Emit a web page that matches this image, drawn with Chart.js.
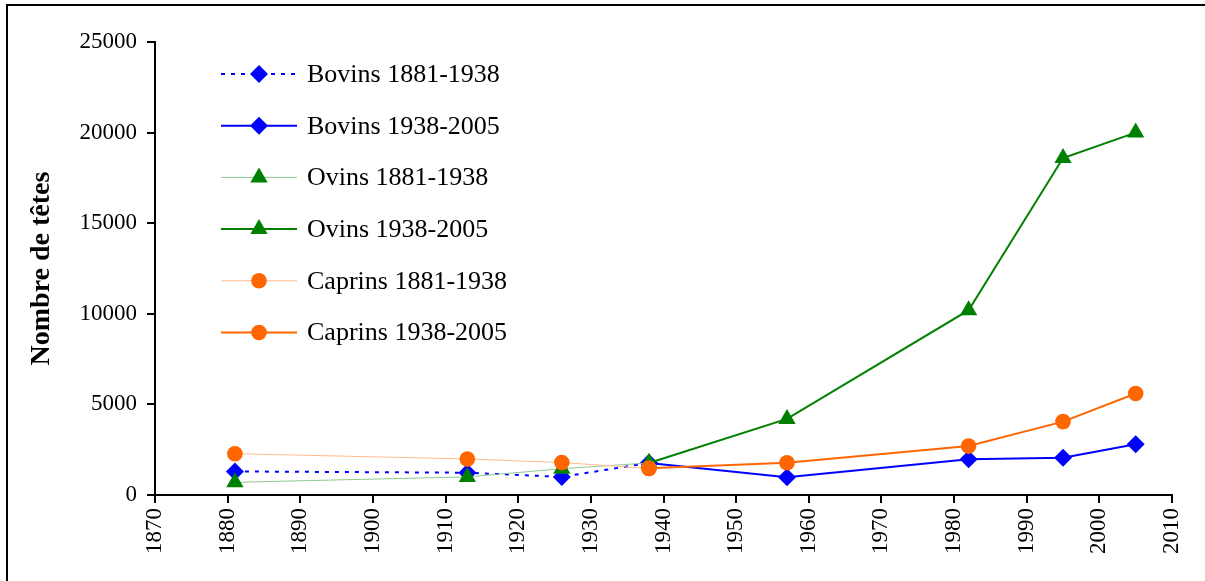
<!DOCTYPE html>
<html>
<head>
<meta charset="utf-8">
<script src="https://cdn.jsdelivr.net/npm/chart.js"></script>
<style>
  html, body { margin: 0; padding: 0; background: #fff; overflow: hidden; }
  #wrap { position: relative; width: 1205px; height: 581px; }
  #frame {
    position: absolute; left: 6px; top: 4px; width: 1400px; height: 800px;
    border-left: 2px solid #000; border-top: 2px solid #000; pointer-events: none;
  }
</style>
</head>
<body>
<div id="wrap">
  <canvas id="herdChart" width="1205" height="581"></canvas>
  <div id="frame"></div>
</div>
<script>
// Census years of the two periods
var yearsEarly = [1881, 1913, 1926, 1938];
var yearsLate = [1938, 1957, 1982, 1995, 2005];

// Head counts per species
var bovinsEarly = [1300, 1230, 1000, 1770];
var bovinsLate = [1770, 980, 1970, 2060, 2800];
var ovinsEarly = [700, 1000, 1450, 1770];
var ovinsLate = [1770, 4200, 10200, 18600, 20000];
var caprinsEarly = [2280, 1990, 1790, 1470];
var caprinsLate = [1470, 1780, 2700, 4050, 5600];

var yearTicks = [1870, 1880, 1890, 1900, 1910, 1920, 1930, 1940, 1950, 1960, 1970, 1980, 1990, 2000, 2010];
var countTicks = [0, 5000, 10000, 15000, 20000, 25000];

var BLUE = '#0000FF', GREEN = '#008000', ORANGE = '#FF6600';
var SERIF = "'Liberation Serif', 'Times New Roman', serif";

function pairs(xs, ys) {
  return xs.map(function (x, i) { return { x: x, y: ys[i] }; });
}

function series(label, xs, ys, opts) {
  return {
    label: label,
    data: pairs(xs, ys),
    borderColor: opts.line,
    borderWidth: opts.width,
    borderDash: opts.dash || [],
    backgroundColor: opts.marker,
    pointStyle: opts.style,
    pointRadius: opts.radius,
    pointBackgroundColor: opts.marker,
    pointBorderWidth: 0,
    pointHoverRadius: opts.radius,
    tension: 0,
    order: opts.order
  };
}

var datasets = [
  series('Bovins 1881-1938', yearsEarly, bovinsEarly, { line: BLUE, width: 2, dash: [4, 6], marker: BLUE, style: 'rectRot', radius: 9, order: 5 }),
  series('Bovins 1938-2005', yearsLate, bovinsLate, { line: BLUE, width: 2, marker: BLUE, style: 'rectRot', radius: 9, order: 4 }),
  series('Ovins 1881-1938', yearsEarly, ovinsEarly, { line: '#8fc88f', width: 1, marker: GREEN, style: 'triangle', radius: 10, order: 3 }),
  series('Ovins 1938-2005', yearsLate, ovinsLate, { line: GREEN, width: 2, marker: GREEN, style: 'triangle', radius: 10, order: 2 }),
  series('Caprins 1881-1938', yearsEarly, caprinsEarly, { line: '#ffbb8c', width: 1, marker: ORANGE, style: 'circle', radius: 7.8, order: 1 }),
  series('Caprins 1938-2005', yearsLate, caprinsLate, { line: ORANGE, width: 2, marker: ORANGE, style: 'circle', radius: 7.8, order: 0 })
];

// same marker shapes as Chart.js points, for the legend samples
function drawMarker(ctx, style, r, x, y) {
  ctx.beginPath();
  if (style === 'rectRot') {
    ctx.moveTo(x - r, y); ctx.lineTo(x, y - r); ctx.lineTo(x + r, y); ctx.lineTo(x, y + r);
  } else if (style === 'triangle') {
    var a = -Math.PI / 2;
    ctx.moveTo(x + Math.cos(a) * r, y + Math.sin(a) * r);
    a += 2 * Math.PI / 3;
    ctx.lineTo(x + Math.cos(a) * r, y + Math.sin(a) * r);
    a += 2 * Math.PI / 3;
    ctx.lineTo(x + Math.cos(a) * r, y + Math.sin(a) * r);
  } else {
    ctx.arc(x, y, r, 0, Math.PI * 2);
  }
  ctx.closePath();
  ctx.fill();
}

var insideLegend = {
  id: 'insideLegend',
  afterDraw: function (chart) {
    var ctx = chart.ctx;
    var x0 = 221, x1 = 297, mx = 259, tx = 307, top = 74, step = 51.7;
    ctx.save();
    ctx.font = '26px ' + SERIF;
    ctx.textBaseline = 'middle';
    ctx.textAlign = 'left';
    chart.data.datasets.forEach(function (ds, i) {
      var y = top + i * step;
      ctx.strokeStyle = ds.borderColor;
      ctx.lineWidth = ds.borderWidth;
      ctx.setLineDash(ds.borderDash);
      ctx.beginPath();
      ctx.moveTo(x0, y);
      ctx.lineTo(x1, y);
      ctx.stroke();
      ctx.setLineDash([]);
      ctx.fillStyle = ds.pointBackgroundColor;
      drawMarker(ctx, ds.pointStyle, ds.pointRadius, mx, y);
      ctx.fillStyle = '#000';
      ctx.fillText(ds.label, tx, y + 1);
    });
    ctx.restore();
  }
};

var ctx = document.getElementById('herdChart').getContext('2d');
var herdChart = new Chart(ctx, {
  type: 'line',
  data: { datasets: datasets },
  plugins: [insideLegend],
  options: {
    responsive: false,
    animation: false,
    devicePixelRatio: 1,
    layout: { padding: { left: 0, top: 42, right: 33, bottom: 0 } },
    plugins: {
      legend: { display: false },
      tooltip: { enabled: false }
    },
    scales: {
      x: {
        type: 'linear',
        min: yearTicks[0],
        max: yearTicks[yearTicks.length - 1],
        afterBuildTicks: function (scale) {
          scale.ticks = yearTicks.map(function (v) { return { value: v }; });
        },
        afterFit: function (scale) { scale.height = 86; },
        border: { display: true, color: '#000', width: 2 },
        grid: { display: true, drawOnChartArea: false, drawTicks: true, tickLength: 8, color: '#000', lineWidth: 2 },
        ticks: {
          autoSkip: false,
          minRotation: 90,
          maxRotation: 90,
          padding: 5,
          color: '#000',
          font: { family: SERIF, size: 23 },
          callback: function (v) { return String(v); }
        }
      },
      y: {
        min: countTicks[0],
        max: countTicks[countTicks.length - 1],
        afterBuildTicks: function (scale) {
          scale.ticks = countTicks.map(function (v) { return { value: v }; });
        },
        afterFit: function (scale) { scale.width = 155; },
        border: { display: true, color: '#000', width: 2 },
        grid: { display: true, drawOnChartArea: false, drawTicks: true, tickLength: 8, color: '#000', lineWidth: 2 },
        ticks: {
          padding: 10,
          color: '#000',
          font: { family: SERIF, size: 23 },
          callback: function (v) { return String(v); }
        },
        title: {
          display: true,
          text: 'Nombre de têtes',
          color: '#000',
          padding: { top: 25, bottom: 0 },
          font: { family: SERIF, size: 28, weight: 'bold' }
        }
      }
    }
  }
});
</script>
</body>
</html>
